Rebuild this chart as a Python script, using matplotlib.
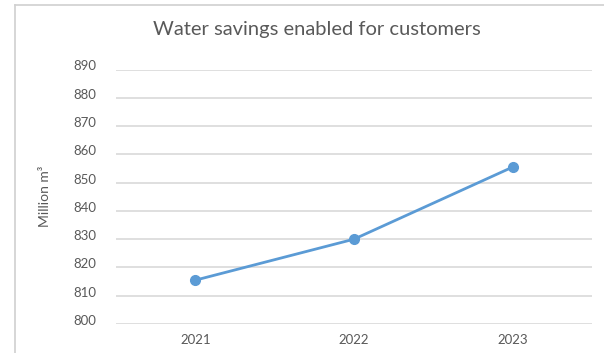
import matplotlib
matplotlib.use("Agg")
import matplotlib.pyplot as plt
from matplotlib.lines import Line2D
from matplotlib.transforms import ScaledTranslation

# Chart data
years = ["2021", "2022", "2023"]
savings = [815.5, 830, 855.5]
y_ticks = [800, 810, 820, 830, 840, 850, 860, 870, 880, 890]

plt.rcParams["font.family"] = ["Lato", "DejaVu Sans"]

fig = plt.figure(figsize=(6.04, 3.53), dpi=100)
ax = fig.add_axes([116 / 604, 1 - 324 / 353, 476 / 604, (324 - 69.5) / 353])

x = list(range(len(years)))
ax.plot(x, savings, color="#5b9bd5", linewidth=2, marker="o", markersize=7)

ax.set_xlim(-0.5, len(years) - 0.5)
ax.set_ylim(y_ticks[0], y_ticks[-1])
ax.set_xticks(x)
ax.set_xticklabels(years)
ax.set_yticks(y_ticks)

# Light grey horizontal gridlines, no spines
ax.grid(axis="y", color="#d9d9d9", linewidth=1.2)
ax.set_axisbelow(True)
for s in ax.spines.values():
    s.set_visible(False)
ax.tick_params(axis="both", length=0, labelsize=9.5, colors="#595959")
ax.tick_params(axis="y", pad=14)
ax.tick_params(axis="x", pad=7)

# y labels sit a little above their gridlines in the original
shift = ScaledTranslation(0, 4 / 100, fig.dpi_scale_trans)
for lbl in ax.get_yticklabels():
    lbl.set_transform(lbl.get_transform() + shift)

ax.set_ylabel("Million m³", fontsize=10, color="#595959", labelpad=16)

fig.text(317 / 604, 1 - 30 / 353, "Water savings enabled for customers",
         ha="center", va="center", fontsize=14.5, color="#595959")

# Chart frame (partly cropped)
fig.add_artist(Line2D([15 / 604, 15 / 604], [0, 1 - 5 / 353], color="#d0d0d0", linewidth=1.2))
fig.add_artist(Line2D([15 / 604, 1], [1 - 5 / 353, 1 - 5 / 353], color="#d0d0d0", linewidth=1.2))

fig.savefig("out.png", dpi=100)
